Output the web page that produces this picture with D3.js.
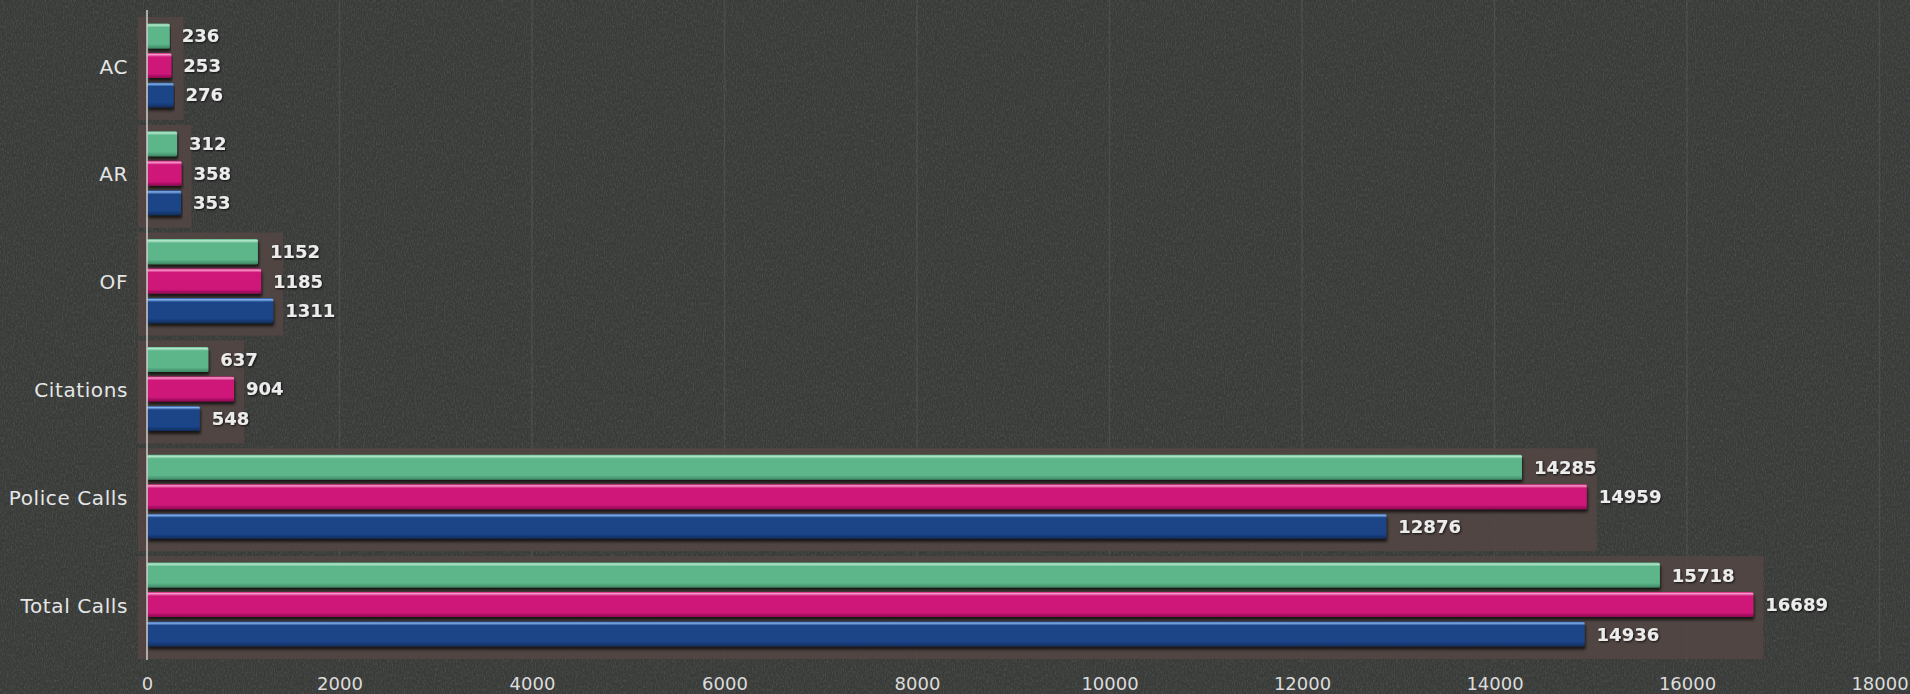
<!DOCTYPE html>
<html>
<head>
<meta charset="utf-8">
<script src="https://cdn.jsdelivr.net/npm/d3@7"></script>
<style>
  html, body { margin: 0; padding: 0; background: #393b39; }
  svg { display: block; }
</style>
</head>
<body>
<div id="chart"></div>
<script>
// data
var categories = ["AC", "AR", "OF", "Citations", "Police Calls", "Total Calls"];
var seriesNames = ["green", "pink", "blue"];
var greenValues = [236, 312, 1152, 637, 14285, 15718];
var pinkValues = [253, 358, 1185, 904, 14959, 16689];
var blueValues = [276, 353, 1311, 548, 12876, 14936];
var xTicks = [0, 2000, 4000, 6000, 8000, 10000, 12000, 14000, 16000, 18000];

var seriesValues = [greenValues, pinkValues, blueValues];
var colors = {
    green: { top: "#b4e8cc", mid: "#5cb68a", bot: "#3d8763" },
    pink: { top: "#f59ac8", mid: "#cf1479", bot: "#8e0c52" },
    blue: { top: "#86b4ec", mid: "#1a4488", bot: "#102c58" }
};

var W = 1910, H = 694;
var margin = { left: 147, right: 42 };

var svg = d3.select("#chart").append("svg")
    .attr("width", W)
    .attr("height", H);

var defs = svg.append("defs");

// background texture
var noise = defs.append("filter").attr("id", "noise")
    .attr("x", 0).attr("y", 0).attr("width", "100%").attr("height", "100%");
noise.append("feTurbulence")
    .attr("type", "fractalNoise")
    .attr("baseFrequency", "0.9 0.35")
    .attr("numOctaves", 2)
    .attr("seed", 4);
noise.append("feColorMatrix")
    .attr("type", "matrix")
    .attr("values", "0 0 0 0 0.5  0 0 0 0 0.5  0 0 0 0 0.5  0 0 0 0.9 -0.35");

var shadow = defs.append("filter").attr("id", "shadow")
    .attr("x", "-5%").attr("y", "-30%").attr("width", "110%").attr("height", "180%");
shadow.append("feDropShadow")
    .attr("dx", 1).attr("dy", 3)
    .attr("stdDeviation", 1.5)
    .attr("flood-color", "#000")
    .attr("flood-opacity", 0.7);

var txtShadow = defs.append("filter").attr("id", "txtShadow")
    .attr("x", "-10%").attr("y", "-20%").attr("width", "130%").attr("height", "150%");
txtShadow.append("feDropShadow")
    .attr("dx", 1).attr("dy", 1)
    .attr("stdDeviation", 0.8)
    .attr("flood-color", "#000")
    .attr("flood-opacity", 0.8);

seriesNames.forEach(function(s) {
    var g = defs.append("linearGradient")
        .attr("id", "grad-" + s)
        .attr("x1", 0).attr("y1", 0).attr("x2", 0).attr("y2", 1);
    g.append("stop").attr("offset", "0%").attr("stop-color", colors[s].mid);
    g.append("stop").attr("offset", "6%").attr("stop-color", colors[s].top);
    g.append("stop").attr("offset", "16%").attr("stop-color", colors[s].mid);
    g.append("stop").attr("offset", "82%").attr("stop-color", colors[s].mid);
    g.append("stop").attr("offset", "100%").attr("stop-color", colors[s].bot);
});

svg.append("rect")
    .attr("width", W).attr("height", H)
    .attr("fill", "#393b39");
svg.append("rect")
    .attr("width", W).attr("height", H)
    .attr("filter", "url(#noise)")
    .attr("opacity", 0.35);

// scales
var x = d3.scaleLinear()
    .domain([0, 18000])
    .range([margin.left, margin.left + 9 * 192.5]);

var y = d3.scaleBand()
    .domain(categories)
    .range([17, 659])
    .paddingInner(0.045)
    .paddingOuter(0);

var ySub = d3.scaleBand()
    .domain(seriesNames)
    .range([5, 92])
    .paddingInner(0.15)
    .paddingOuter(0.05);

// faint gridlines
svg.append("g")
    .selectAll("line")
    .data(xTicks.slice(1))
    .enter().append("line")
    .attr("x1", d => x(d)).attr("x2", d => x(d))
    .attr("y1", 0).attr("y2", 662)
    .attr("stroke", "#ffffff")
    .attr("stroke-opacity", 0.07)
    .attr("stroke-width", 1.5);

var rows = categories.map(function(c, i) {
    return {
        cat: c,
        vals: seriesNames.map((s, j) => ({ series: s, value: seriesValues[j][i] }))
    };
});

var groups = svg.append("g").selectAll(".group")
    .data(rows)
    .enter().append("g")
    .attr("class", "group")
    .attr("transform", d => "translate(0," + y(d.cat) + ")");

// brownish panel behind each group
groups.append("rect")
    .attr("x", x(0) - 9)
    .attr("y", 0)
    .attr("width", d => x(d3.max(d.vals, v => v.value)) - x(0) + 19)
    .attr("height", y.bandwidth())
    .attr("fill", "#524643")
    .attr("opacity", 0.9);

groups.selectAll(".bar")
    .data(d => d.vals)
    .enter().append("rect")
    .attr("class", "bar")
    .attr("x", x(0))
    .attr("y", d => ySub(d.series))
    .attr("width", d => x(d.value) - x(0))
    .attr("height", ySub.bandwidth())
    .attr("rx", 1.5)
    .attr("fill", d => "url(#grad-" + d.series + ")")
    .attr("filter", "url(#shadow)");

groups.selectAll(".val")
    .data(d => d.vals)
    .enter().append("text")
    .attr("class", "val")
    .attr("x", d => x(d.value) + 12)
    .attr("y", d => ySub(d.series) + ySub.bandwidth() / 2)
    .attr("dy", "0.36em")
    .attr("fill", "#ececec")
    .attr("font-family", "'DejaVu Sans', sans-serif")
    .attr("font-weight", "bold")
    .attr("font-size", 18)
    .attr("filter", "url(#txtShadow)")
    .text(d => d.value);

// category labels
groups.append("text")
    .attr("x", x(0) - 19)
    .attr("y", y.bandwidth() / 2 - 2)
    .attr("dy", "0.36em")
    .attr("text-anchor", "end")
    .attr("fill", "#e6e6e6")
    .attr("font-family", "'DejaVu Sans', sans-serif")
    .attr("font-size", 20)
    .attr("letter-spacing", 0.6)
    .text(d => d.cat);

// y axis line
svg.append("line")
    .attr("x1", x(0)).attr("x2", x(0))
    .attr("y1", 10).attr("y2", 660)
    .attr("stroke", "#cfcfcf")
    .attr("stroke-width", 1.5);

// x axis tick labels
var xAxis = svg.append("g")
    .attr("transform", "translate(0,673)")
    .call(d3.axisBottom(x).tickValues(xTicks).tickSize(0).tickPadding(4).tickFormat(d3.format("d")));
xAxis.select(".domain").remove();
xAxis.selectAll("text")
    .attr("fill", "#dcdcdc")
    .attr("font-family", "'DejaVu Sans', sans-serif")
    .attr("font-size", 18);
</script>
</body>
</html>
